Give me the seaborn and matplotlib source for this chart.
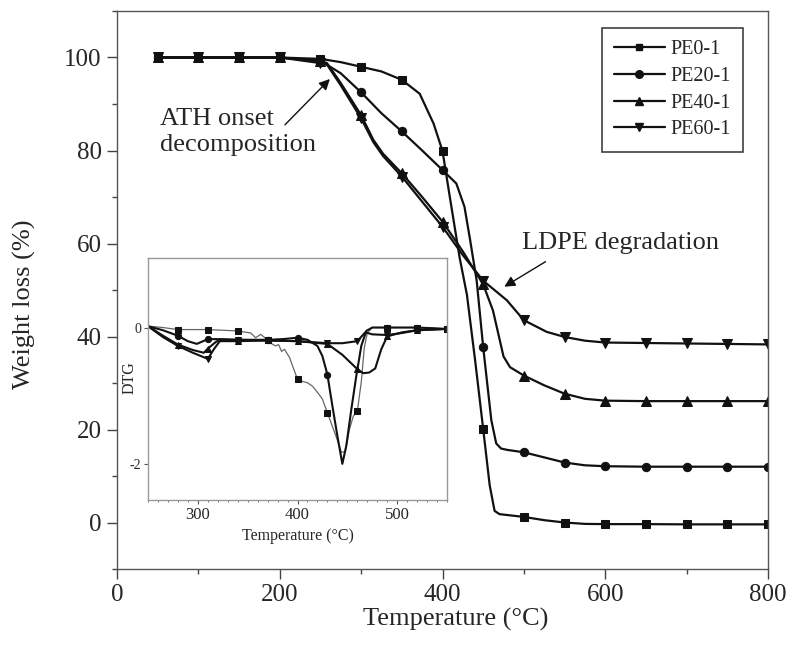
import matplotlib
matplotlib.use("Agg")
import matplotlib.pyplot as plt
from matplotlib.lines import Line2D
from matplotlib.ticker import MultipleLocator, FixedLocator
import seaborn as sns

sns.set_style("ticks")
plt.rcParams['font.family'] = ['Liberation Serif', 'DejaVu Serif']
plt.rcParams['mathtext.fontset'] = 'stix'

# ---------------- main TGA data ----------------
series_names = ["PE0-1", "PE20-1", "PE40-1", "PE60-1"]
series_markers = ["s", "o", "^", "v"]

t_pe0 = [50, 100, 150, 200, 250, 275, 300, 325, 350, 372, 389, 400, 409, 421, 430, 440, 450, 458, 464, 470, 480, 500, 525, 550, 575, 600, 650, 700, 750, 800]
w_pe0 = [100, 100, 100, 100, 99.7, 99.0, 98.0, 97.0, 95.2, 92.2, 85.8, 79.9, 70, 57, 49, 35, 20.1, 8, 2.5, 1.8, 1.6, 1.2, 0.5, 0.0, -0.3, -0.35, -0.35, -0.4, -0.4, -0.4]

t_pe20 = [50, 100, 150, 200, 250, 275, 300, 325, 350, 375, 400, 417, 427, 434, 442, 450, 460, 466, 472, 480, 500, 525, 550, 575, 600, 650, 700, 750, 800]
w_pe20 = [100, 100, 100, 100, 99.3, 96.6, 92.5, 88, 84.1, 80, 75.8, 72.9, 67.9, 60.7, 52, 37.7, 22, 17, 15.9, 15.6, 15.1, 14, 12.9, 12.3, 12.1, 12.0, 12.0, 12.0, 12.0]

t_pe40 = [50, 100, 150, 200, 250, 258, 275, 300, 315, 327, 350, 375, 400, 425, 450, 462, 475, 483, 500, 525, 550, 575, 600, 650, 700, 750, 800]
w_pe40 = [100, 100, 100, 100, 99.2, 98.8, 94.5, 87.6, 82.3, 79.3, 75.1, 70, 64.7, 58.3, 51.2, 45.6, 35.7, 33.4, 31.6, 29.5, 27.7, 26.6, 26.2, 26.1, 26.1, 26.1, 26.1]

t_pe60 = [50, 100, 150, 200, 250, 258, 275, 300, 315, 327, 350, 375, 400, 425, 450, 479, 500, 528, 550, 575, 600, 650, 700, 750, 800]
w_pe60 = [100, 100, 100, 100, 98.8, 98.5, 94.0, 86.9, 81.8, 78.8, 74.4, 69, 63.6, 57.5, 52, 47.8, 43.5, 41, 39.9, 39.1, 38.7, 38.6, 38.5, 38.4, 38.3]

main_marker_temps = [50, 100, 150, 200, 250, 300, 350, 400, 450, 500, 550, 600, 650, 700, 750, 800]

# ---------------- inset DTG data ----------------
dt_pe0 = [250, 265, 280, 295, 310, 325, 340, 353, 358, 363, 370, 372, 378, 381, 384, 387, 392, 400, 405, 410, 415, 420, 425, 430, 435, 440, 444, 448, 452, 456, 460, 464, 467, 470, 475, 490, 505, 520, 535, 550]
dd_pe0 = [0.02, 0.0, -0.03, -0.03, -0.03, -0.04, -0.05, -0.08, -0.15, -0.10, -0.18, -0.22, -0.27, -0.25, -0.35, -0.32, -0.44, -0.76, -0.79, -0.81, -0.86, -0.95, -1.05, -1.25, -1.45, -1.65, -1.83, -1.82, -1.5, -1.3, -1.23, -0.8, -0.3, -0.08, 0.0, 0.0, 0.0, 0.0, -0.01, -0.02]

dt_pe20 = [250, 265, 280, 290, 299, 310, 323, 340, 355, 370, 385, 400, 410, 420, 425, 430, 435, 440, 445, 449, 454, 459, 464, 469, 475, 490, 505, 520, 535, 550]
dd_pe20 = [0.02, -0.04, -0.12, -0.2, -0.24, -0.17, -0.17, -0.18, -0.18, -0.18, -0.17, -0.15, -0.18, -0.27, -0.42, -0.69, -1.15, -1.59, -2.0, -1.73, -1.2, -0.71, -0.27, -0.05, 0.0, 0.0, 0.0, 0.0, -0.01, -0.02]

dt_pe40 = [250, 265, 280, 295, 306, 310, 319, 330, 340, 370, 400, 430, 445, 460, 466, 472, 478, 484, 490, 505, 520, 535, 550]
dd_pe40 = [0.02, -0.12, -0.25, -0.33, -0.37, -0.31, -0.2, -0.2, -0.2, -0.19, -0.2, -0.24, -0.4, -0.61, -0.67, -0.66, -0.6, -0.32, -0.13, -0.07, -0.04, -0.03, -0.02]

dt_pe60 = [250, 265, 280, 295, 310, 316, 323, 340, 370, 400, 430, 445, 460, 468, 475, 490, 505, 520, 535, 550]
dd_pe60 = [0.02, -0.14, -0.27, -0.37, -0.46, -0.32, -0.18, -0.18, -0.19, -0.2, -0.23, -0.23, -0.2, -0.07, -0.1, -0.11, -0.08, -0.04, -0.03, -0.02]

inset_marker_temps = [280, 310, 340, 370, 400, 430, 460, 490, 520, 550]

main_x_ticks = [0, 200, 400, 600, 800]
main_y_ticks = [0, 20, 40, 60, 80, 100]
inset_x_ticks = [300, 400, 500]
inset_y_ticks = [0, -2]
inset_y_ticklabels = ["0", "-2"]


def mark_idx(ts, marks):
    return [i for i, t in enumerate(ts) if t in marks]


fig = plt.figure(figsize=(7.94, 6.5), dpi=100)
ax = fig.add_axes([117 / 794, 1 - 569 / 650, (768 - 117) / 794, (569 - 11) / 650])

main_series = [(t_pe0, w_pe0), (t_pe20, w_pe20), (t_pe40, w_pe40), (t_pe60, w_pe60)]
msizes = [5.5, 6, 6.5, 6.5]
for (ts, ws), mk, ms in zip(main_series, series_markers, msizes):
    sns.lineplot(x=ts, y=ws, ax=ax, color="#111111", lw=1.6, marker=mk, ms=ms,
                 markevery=mark_idx(ts, main_marker_temps), mec="#111111",
                 estimator=None, sort=False, legend=False)

ax.set_xlim(0, 800)
ax.set_ylim(-10, 110)
ax.set_xticks(main_x_ticks)
ax.set_yticks(main_y_ticks)
ax.xaxis.set_minor_locator(MultipleLocator(100))
ax.yaxis.set_minor_locator(MultipleLocator(10))
ax.tick_params(which="major", direction="out", length=7, width=1, labelsize=18, color="#444444", pad=4)
ax.tick_params(which="minor", direction="out", length=3.5, width=1, color="#444444")
for sp in ax.spines.values():
    sp.set_color("#555555")
    sp.set_linewidth(1)

ax.set_xlabel("Temperature (°C)", fontsize=19)
ax.set_ylabel("Weight loss (%)", fontsize=19)
ax.xaxis.set_label_coords(0.52, -0.07)
ax.yaxis.set_label_coords(-0.1244, 0.475)

# annotations
ax.text(52.8, 83.9, "ATH onset\ndecomposition", fontsize=19, ha="left", va="center", linespacing=1.25)
ax.annotate("", xy=(264, 95.8), xytext=(204, 85.1),
            arrowprops=dict(arrowstyle="-|>", color="#111111", lw=1, mutation_scale=16))
ax.text(497.5, 60.1, "LDPE degradation", fontsize=19, ha="left", va="center")
ax.annotate("", xy=(473, 50.4), xytext=(529.5, 56.4),
            arrowprops=dict(arrowstyle="-|>", color="#111111", lw=1, mutation_scale=16))

# legend
handles = [Line2D([], [], color="#111111", lw=1.6, marker=mk, ms=ms)
           for mk, ms in zip(series_markers, [5, 5.5, 6, 6])]
leg = ax.legend(handles, series_names, loc="upper right", bbox_to_anchor=(0.9616, 0.9695),
                borderaxespad=0, fontsize=14.5, frameon=True, fancybox=False,
                handlelength=2.5, handletextpad=0.3, labelspacing=0.38, borderpad=0.6)
leg.get_frame().set_edgecolor("#111111")
leg.get_frame().set_linewidth(1.2)

# ---------------- inset ----------------
ax2 = fig.add_axes([148 / 794, 1 - 500 / 650, (447 - 148) / 794, (500 - 258) / 650])
inset_series = [(dt_pe0, dd_pe0), (dt_pe20, dd_pe20), (dt_pe40, dd_pe40), (dt_pe60, dd_pe60)]
inset_colors = ["#666666", "#111111", "#111111", "#111111"]
inset_lw = [0.9, 1.5, 1.5, 1.5]
for (ts, ds), mk, c, lw in zip(inset_series, series_markers, inset_colors, inset_lw):
    sns.lineplot(x=ts, y=ds, ax=ax2, color=c, lw=lw, marker=mk, ms=4.5,
                 markevery=mark_idx(ts, inset_marker_temps), mfc="#111111", mec="#111111",
                 estimator=None, sort=False, legend=False)
ax2.set_xlim(250, 550)
ax2.set_ylim(-2.53, 1.02)
ax2.set_xticks(inset_x_ticks)
ax2.xaxis.set_minor_locator(MultipleLocator(10))
ax2.yaxis.set_major_locator(FixedLocator(inset_y_ticks))
ax2.set_yticklabels(inset_y_ticklabels)
ax2.tick_params(which="major", direction="out", length=3, width=0.8, labelsize=12, color="#555555", pad=2)
ax2.tick_params(axis="y", which="major", labelsize=10, pad=2)
ax2.tick_params(which="minor", direction="out", length=1.5, width=0.6, color="#555555")
for sp in ax2.spines.values():
    sp.set_color("#999999")
    sp.set_linewidth(1)
ax2.set_xlabel("Temperature (°C)", fontsize=11.5, labelpad=4)
ax2.set_ylabel("DTG", fontsize=11.5)
ax2.yaxis.set_label_coords(-0.035, 0.504)

fig.savefig("out.png", dpi=100)
